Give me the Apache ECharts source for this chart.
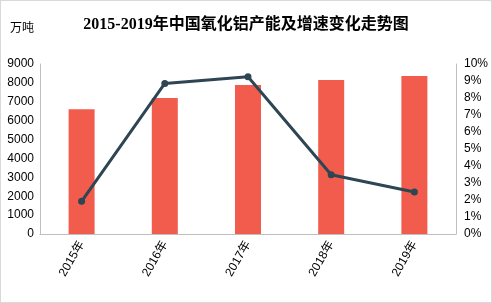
<!DOCTYPE html>
<html>
<head>
<meta charset="utf-8">
<script src="https://cdn.jsdelivr.net/npm/echarts@6/dist/echarts.min.js"></script>
<style>
  html, body { margin: 0; padding: 0; background: #fff; }
  #chart { width: 490px; height: 301px; border: 1px solid #d9d9d9; }
</style>
</head>
<body>
<div id="chart"></div>
<script>
'use strict';

var years = ['2015年', '2016年', '2017年', '2018年', '2019年'];
// 产能（万吨）
var capacity = [6610, 7195, 7885, 8150, 8360];
// 增速（%）
var growth = [1.92, 8.86, 9.25, 3.49, 2.47];

var axisText = { color: '#000', fontSize: 12, fontFamily: 'Liberation Sans, Noto Sans CJK SC' };

var chart = echarts.init(document.getElementById('chart'));
chart.setOption({
  animation: false,
  title: {
    text: '2015-2019年中国氧化铝产能及增速变化走势图',
    left: 'center',
    top: 11,
    textStyle: {
      fontSize: 16,
      fontWeight: 'bold',
      color: '#000',
      fontFamily: 'Liberation Serif, Noto Sans CJK SC'
    }
  },
  graphic: [{
    type: 'text',
    left: 9,
    top: 20,
    style: { text: '万吨', fontSize: 12, fill: '#000', fontFamily: 'Noto Sans CJK SC' }
  }],
  grid: { left: 39, right: 32, top: 63, bottom: 68 },
  xAxis: {
    type: 'category',
    data: years,
    axisLine: { lineStyle: { color: '#bfbfbf' } },
    axisTick: { show: false },
    axisLabel: Object.assign({ rotate: 60, margin: 8 }, axisText)
  },
  yAxis: [{
    type: 'value',
    min: 0,
    max: 9000,
    interval: 1000,
    splitLine: { show: false },
    axisLine: { show: true, lineStyle: { color: '#bfbfbf' } },
    axisTick: { show: false },
    axisLabel: Object.assign({ margin: 6, formatter: function(v) { return String(v); } }, axisText)
  }, {
    type: 'value',
    min: 0,
    max: 10,
    interval: 1,
    splitLine: { show: false },
    axisLine: { show: true, lineStyle: { color: '#bfbfbf' } },
    axisTick: { show: false },
    axisLabel: Object.assign({ margin: 8, formatter: '{value}%' }, axisText)
  }],
  series: [{
    name: '产能',
    type: 'bar',
    data: capacity,
    barWidth: 26,
    itemStyle: { color: '#F25C4D' }
  }, {
    name: '增速',
    type: 'line',
    yAxisIndex: 1,
    data: growth,
    symbol: 'circle',
    symbolSize: 7,
    lineStyle: { color: '#2E4553', width: 3 },
    itemStyle: { color: '#2E4553' }
  }]
});
</script>
</body>
</html>
